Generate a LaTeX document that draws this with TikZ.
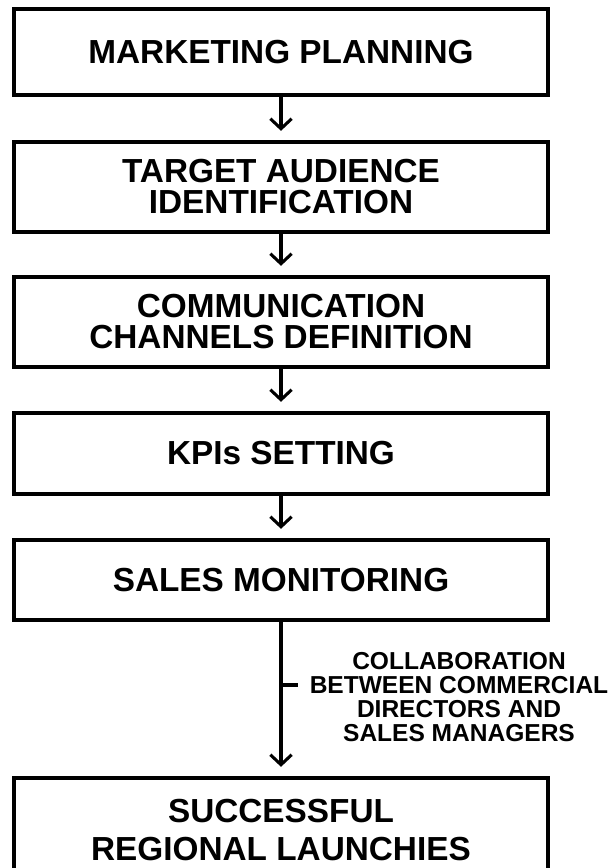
\documentclass[tikz,border=0pt]{standalone}
\usepackage{fontspec}
\setmainfont{Liberation Sans}
\usetikzlibrary{arrows.meta}
\begin{document}
\begin{tikzpicture}[x=0.75pt,y=-0.75pt,
  box/.style={draw=black, line width=2.8pt, minimum width=400.5pt, inner sep=0pt,
    align=center, font=\bfseries\fontsize{25}{23.25}\selectfont},
  flow/.style={line width=2.3pt, -{Straight Barb[length=7.5pt,width=16pt,line width=2.3pt]}, shorten >=7pt},
  lbl/.style={align=center, inner sep=0pt, font=\bfseries\fontsize{18.4}{18}\selectfont}]
\clip (0,0) rectangle (611,868);
\fill[white] (0,0) rectangle (611,868);
\node[box, minimum height=64.5pt] (b1) at (281,52) {MARKETING PLANNING};
\node[box, minimum height=67.5pt] (b2) at (281,187) {TARGET AUDIENCE\\IDENTIFICATION};
\node[box, minimum height=67.5pt] (b3) at (281,322) {COMMUNICATION\\CHANNELS DEFINITION};
\node[box, minimum height=60.75pt] (b4) at (281,453.5) {KPIs SETTING};
\node[box, minimum height=60pt] (b5) at (281,580) {SALES MONITORING};
\node[box, minimum height=78pt, font=\bfseries\fontsize{25}{28}\selectfont] (b6) at (281,830) {SUCCESSFUL\\REGIONAL LAUNCHIES};
\draw[flow] (b1.south) -- (b2.north);
\draw[flow] (b2.south) -- (b3.north);
\draw[flow] (b3.south) -- (b4.north);
\draw[flow] (b4.south) -- (b5.north);
\draw[flow] (b5.south) -- (b6.north);
\node[lbl] (lab) at (459,697) {COLLABORATION\\BETWEEN COMMERCIAL\\DIRECTORS AND\\SALES MANAGERS};
\coordinate (m) at (281,685);
\coordinate (me) at (298,685);
\draw[line width=2.3pt] (m) -- (me);
\end{tikzpicture}
\end{document}
